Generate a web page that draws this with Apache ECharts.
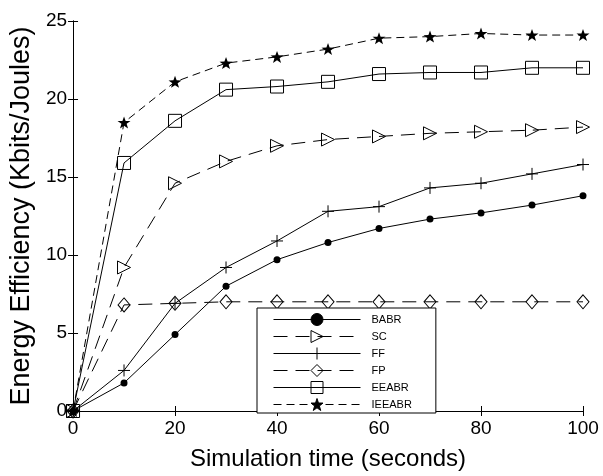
<!DOCTYPE html>
<html>
<head>
<meta charset="utf-8">
<script src="https://cdn.jsdelivr.net/npm/echarts@6/dist/echarts.min.js"></script>
<style>
  html, body { margin: 0; padding: 0; background: #fff; }
  #chart { width: 603px; height: 476px; }
</style>
</head>
<body>
<div id="chart"></div>
<script>
// simulation time (seconds)
const times = [0, 10, 20, 30, 40, 50, 60, 70, 80, 90, 100];

// energy efficiency, Kbits/Joules
const babr   = [0, 1.8, 4.9, 8.0, 9.7, 10.8, 11.7, 12.3, 12.7, 13.2, 13.8];
const sc     = [0, 9.2, 14.6, 16.0, 17.0, 17.4, 17.6, 17.8, 17.9, 18.0, 18.2];
const ff     = [0, 2.6, 6.9, 9.2, 10.9, 12.8, 13.1, 14.3, 14.6, 15.2, 15.8];
const fp     = [0, 6.8, 6.9, 7.0, 7.0, 7.0, 7.0, 7.0, 7.0, 7.0, 7.0];
const eeabr  = [0, 15.9, 18.6, 20.6, 20.8, 21.1, 21.6, 21.7, 21.7, 22.0, 22.0];
const ieeabr = [0, 18.5, 21.1, 22.3, 22.7, 23.2, 23.9, 24.0, 24.2, 24.1, 24.1];

const FONT = 'Liberation Sans, Arial, sans-serif';
const STAR = 'path://M0,-100L23.5,-32.4L95.1,-30.9L38,12.4L58.8,80.9L0,40L-58.8,80.9L-38,12.4L-95.1,-30.9L-23.5,-32.4Z';
const TRI_RIGHT = 'path://M0,0L10,5L0,10Z';
const PLUS = 'path://M5,0L5,10M0,5L10,5';

const pairs = (ys) => times.map((t, i) => [t, ys[i]]);

// small helper so every series looks the same apart from marker / dash
const mkSeries = (name, ys, symbol, size, dash, hollow) => ({
  name: name,
  type: 'line',
  data: pairs(ys),
  symbol: symbol,
  symbolSize: size,
  showSymbol: true,
  color: '#000',
  lineStyle: { color: '#000', width: 1, type: dash },
  itemStyle: hollow
    ? { color: 'rgba(0,0,0,0)', borderColor: '#000', borderWidth: 1 }
    : { color: '#000', borderColor: '#000', borderWidth: 0 },
  emphasis: { disabled: true },
  z: 3
});

const chart = echarts.init(document.getElementById('chart'), null, { renderer: 'canvas' });

const axisCommon = {
  type: 'value',
  axisLine: { show: true, lineStyle: { color: '#000', width: 1 } },
  axisTick: { show: true, inside: true, length: 5, lineStyle: { color: '#000' } },
  splitLine: { show: false }
};

const option = {
  animation: false,
  backgroundColor: '#fff',
  grid: { left: 73, right: 20, top: 21, bottom: 63 },
  xAxis: [
    Object.assign({}, axisCommon, {
      min: 0, max: 100, interval: 20,
      position: 'bottom',
      name: 'Simulation time (seconds)',
      nameLocation: 'middle',
      nameGap: 36,
      nameTextStyle: { fontFamily: FONT, fontSize: 24, color: '#000' },
      axisLabel: { fontFamily: FONT, fontSize: 19, color: '#000', margin: 8 }
    }),
    Object.assign({}, axisCommon, {
      min: 0, max: 100, interval: 20,
      position: 'top',
      axisLabel: { show: false }
    })
  ],
  yAxis: [
    Object.assign({}, axisCommon, {
      min: 0, max: 25, interval: 5,
      position: 'left',
      name: 'Energy Efficiency (Kbits/Joules)',
      nameLocation: 'middle',
      nameGap: 38,
      nameTextStyle: { fontFamily: FONT, fontSize: 27, color: '#000' },
      axisLabel: { fontFamily: FONT, fontSize: 19, color: '#000', margin: 6 }
    }),
    Object.assign({}, axisCommon, {
      min: 0, max: 25, interval: 5,
      position: 'right',
      axisLabel: { show: false }
    })
  ],
  legend: {
    orient: 'vertical',
    left: 257,
    top: 308,
    itemWidth: 87,
    itemHeight: 15,
    itemGap: 4,
    padding: [5, 24, 2, 16],
    backgroundColor: '#fff',
    borderColor: '#000',
    borderWidth: 1,
    borderRadius: 0,
    selectedMode: false,
    lineStyle: { width: 1 },
    itemStyle: { borderWidth: 1 },
    textStyle: { fontFamily: FONT, fontSize: 11, color: '#000', padding: [0, 0, 0, 6] },
    data: ['BABR', 'SC', 'FF', 'FP', 'EEABR', 'IEEABR']
  },
  series: [
    mkSeries('BABR', babr, 'circle', 7, 'solid', false),
    mkSeries('SC', sc, TRI_RIGHT, [13, 13], [14, 8], true),
    mkSeries('FF', ff, PLUS, [12, 12], 'solid', true),
    mkSeries('FP', fp, 'diamond', [12, 14], [14, 8], true),
    mkSeries('EEABR', eeabr, 'rect', [13, 13], 'solid', true),
    mkSeries('IEEABR', ieeabr, STAR, [13, 12], [8, 5], false)
  ]
};

chart.setOption(option);
window.addEventListener('resize', () => chart.resize());
</script>
</body>
</html>
